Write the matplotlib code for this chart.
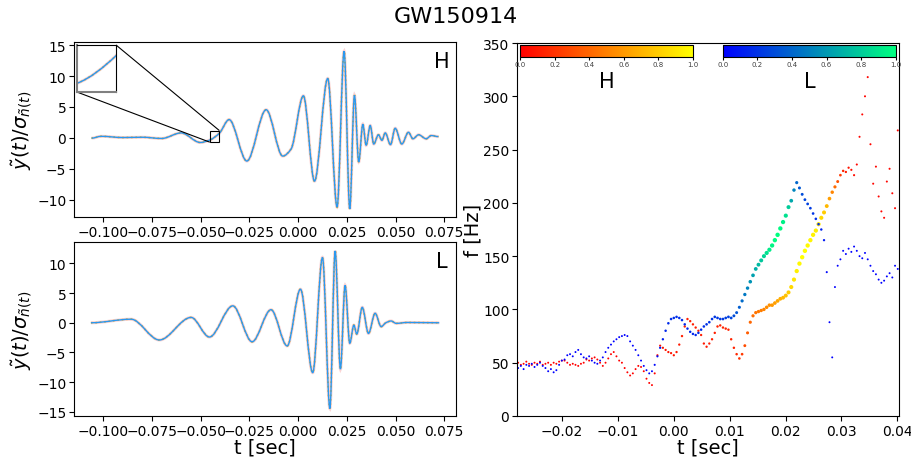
import numpy as np
import matplotlib
matplotlib.use("Agg")
import matplotlib.pyplot as plt
from matplotlib.path import Path
from matplotlib.patches import PathPatch
from matplotlib.cm import ScalarMappable
from matplotlib.colors import Normalize
from mpl_toolkits.axes_grid1.inset_locator import mark_inset

# whitened strain, key points (time [s], amplitude)
H_t = [-0.1060, -0.1010, -0.0900, -0.0800, -0.0700, -0.0600, -0.0502, -0.0453,
       -0.0404, -0.0354, -0.0263, -0.0164, -0.0079, -0.0036, 0.0027, 0.0084,
       0.0152, 0.0200, 0.0236, 0.0265, 0.0289, 0.0311, 0.0332, 0.0349, 0.0370,
       0.0388, 0.0412, 0.0430, 0.0447, 0.0474, 0.0498, 0.0532, 0.0566, 0.0589,
       0.0618, 0.0657, 0.0683, 0.0720]
H_y = [-0.05, 0.25, 0.05, 0.1, -0.1, 0.8, -0.75, -0.35,
       0.75, 2.95, -3.75, 4.55, -2.95, -1.8, 6.8, -7.0,
       9.6, -11.2, 14.0, -11.5, 6.9, -3.9, 2.2, -1.2, 2.0,
       -1.0, 0.5, -0.4, 0.8, -1.1, 1.55, -1.0, 0.9, -0.15,
       0.5, -0.15, 0.37, 0.2]

L_t = [-0.1063, -0.0857, -0.0712, -0.0549, -0.0455, -0.0335, -0.0236, -0.0139,
       -0.0056, 0.0012, 0.0075, 0.0125, 0.0163, 0.0190, 0.0217, 0.0241, 0.0265,
       0.0286, 0.0301, 0.0329, 0.0361, 0.0395, 0.0426, 0.0450, 0.0477, 0.0503,
       0.0560, 0.0724]
L_y = [0.0, 0.6, -2.9, 0.9, -2.4, 2.85, -3.2, 2.2,
       -3.9, 5.65, -8.4, 11.0, -14.45, 12.1, -7.8, 6.3, -3.45,
       -0.4, -1.9, 2.6, -1.8, 1.6, -0.65, 0.0, 0.3, -0.1,
       0.05, 0.0]

# time-frequency tracks, one value per sample (1/2048 s) starting at T0
T0 = -0.0278
FS = 2048
H_f = [50, 48, 49, 51, 49, 48, 50, 49, 51, 48,
       49, 50, 48, 50, 49, 51, 52, 52, 50, 48,
       49, 48, 47, 49, 50, 53, 52, 54, 55, 53,
       50, 47, 50, 54, 58, 60, 56, 52, 50, 45,
       41, 38, 40, 44, 47, 46, 42, 35, 31, 29,
       40, 57, 66, 64, 62, 60, 59, 57, 60, 67,
       75, 84, 91, 89, 86, 83, 80, 76, 68, 65,
       68, 72, 78, 84, 85, 83, 82, 81, 72, 64,
       58, 54, 58, 66, 78, 88, 94, 97, 98, 99,
       100, 102, 104, 104, 106, 108, 110, 111, 113, 116,
       121, 128, 136, 143, 149, 155, 160, 165, 170, 174,
       180, 186, 191, 197, 204, 210, 215, 220, 226, 230,
       229, 233, 231, 226, 236, 262, 283, 300, 318, 255,
       218, 234, 206, 192, 186, 220, 232, 209, 195, 268]
H_w = [0, 0, 0, 0, 0, 0, 0, 0, 0, 0,
       0, 0, 0, 0, 0, 0, 0, 0, 0, 0,
       0, 0, 0, 0, 0, 0, 0, 0, 0, 0,
       0, 0, 0, 0, 0, 0, 0, 0, 0, 0,
       0, 0, 0, 0, 0, 0, 0, 0, 0, 0,
       0.02, 0.04, 0.06, 0.08, 0.08, 0.08, 0.08, 0.08, 0.1, 0.1,
       0.12, 0.12, 0.12, 0.12, 0.12, 0.12, 0.1, 0.1, 0.1, 0.1,
       0.1, 0.12, 0.12, 0.14, 0.14, 0.14, 0.14, 0.14, 0.14, 0.14,
       0.16, 0.18, 0.22, 0.3, 0.36, 0.4, 0.43, 0.45, 0.47, 0.49,
       0.52, 0.55, 0.57, 0.6, 0.62, 0.65, 0.68, 0.72, 0.76, 0.8,
       0.85, 0.9, 0.94, 0.97, 1.0, 1.0, 0.98, 0.96, 0.95, 0.93,
       0.9, 0.85, 0.8, 0.72, 0.62, 0.52, 0.42, 0.32, 0.22, 0.15,
       0.1, 0.08, 0.06, 0.05, 0.03, 0.02, 0.02, 0.02, 0.02, 0.02,
       0.02, 0.02, 0.02, 0.02, 0.02, 0.02, 0.02, 0.02, 0.02, 0.02]

L_f = [45, 47, 44, 48, 47, 49, 46, 48, 50, 47,
       45, 42, 44, 41, 43, 48, 52, 53, 57, 58,
       56, 60, 62, 58, 55, 54, 56, 52, 50, 49,
       52, 55, 60, 64, 67, 70, 72, 74, 75, 76,
       75, 70, 66, 62, 57, 52, 47, 43, 40, 42,
       48, 56, 64, 72, 80, 87, 91, 92, 93, 92,
       90, 86, 82, 79, 77, 76, 78, 81, 84, 86,
       88, 91, 93, 92, 91, 91, 92, 93, 92, 94,
       97, 102, 108, 114, 120, 126, 132, 138, 142, 146,
       150, 153, 156, 160, 165, 170, 176, 182, 188, 196,
       202, 212, 219, 214, 208, 203, 199, 195, 190, 185,
       180, 175, 165, 135, 88, 55, 121, 141, 147, 155,
       152, 157, 154, 159, 155, 150, 148, 153, 147, 141,
       136, 133, 128, 125, 127, 131, 134, 130, 141, 138]
L_w = [0, 0, 0, 0, 0, 0, 0, 0, 0, 0,
       0, 0, 0, 0, 0, 0, 0, 0, 0, 0,
       0, 0, 0, 0, 0, 0, 0, 0, 0, 0,
       0, 0, 0, 0, 0, 0, 0, 0, 0, 0,
       0, 0, 0, 0, 0, 0, 0, 0, 0, 0,
       0.03, 0.06, 0.09, 0.12, 0.15, 0.17, 0.18, 0.18, 0.18, 0.18,
       0.17, 0.16, 0.15, 0.15, 0.15, 0.15, 0.16, 0.17, 0.18, 0.2,
       0.2, 0.2, 0.22, 0.22, 0.22, 0.23, 0.24, 0.25, 0.27, 0.3,
       0.33, 0.37, 0.42, 0.47, 0.52, 0.58, 0.63, 0.68, 0.73, 0.78,
       0.83, 0.88, 0.92, 0.96, 0.99, 1.0, 0.98, 0.94, 0.88, 0.8,
       0.66, 0.52, 0.4, 0.34, 0.3, 0.27, 0.25, 0.23, 0.21, 0.19,
       0.17, 0.14, 0.1, 0.03, 0, 0, 0, 0, 0, 0,
       0, 0, 0, 0, 0, 0, 0, 0, 0, 0,
       0, 0, 0, 0, 0, 0, 0, 0, 0, 0]

YLABEL = r"$\tilde{y}(t)/\sigma_{\tilde{n}(t)}$"


def smooth_path(tk, yk):
    # cubic bezier through the key points, flat at the extrema
    tk = np.asarray(tk, float)
    yk = np.asarray(yk, float)
    d = np.diff(yk) / np.diff(tk)
    m = np.zeros(len(tk))
    for k in range(1, len(tk) - 1):
        if d[k - 1] * d[k] > 0:
            m[k] = 2.0 / (1.0 / d[k - 1] + 1.0 / d[k])
    verts = [(tk[0], yk[0])]
    codes = [Path.MOVETO]
    for k in range(len(tk) - 1):
        h = tk[k + 1] - tk[k]
        verts += [(tk[k] + h / 3, yk[k] + m[k] * h / 3),
                  (tk[k + 1] - h / 3, yk[k + 1] - m[k + 1] * h / 3),
                  (tk[k + 1], yk[k + 1])]
        codes += [Path.CURVE4] * 3
    return Path(verts, codes)


def draw_wave(ax, tk, yk):
    path = smooth_path(tk, yk)
    ax.add_patch(PathPatch(path, fill=False, ec="#f07070", lw=2.2, alpha=0.3))
    ax.add_patch(PathPatch(path, fill=False, ec="#f8b400", lw=1.2, ls=":"))
    ax.add_patch(PathPatch(path, fill=False, ec="#2b98ee", lw=1.0))


fig = plt.figure(figsize=(9.12, 4.6), dpi=100)
fig.suptitle("GW150914", fontsize=16, y=0.985)

axH = fig.add_axes([0.0811, 0.5261, 0.4189, 0.3804])
axL = fig.add_axes([0.0811, 0.0935, 0.4189, 0.3782])
axF = fig.add_axes([0.5669, 0.0935, 0.4189, 0.8108])

draw_wave(axH, H_t, H_y)
draw_wave(axL, L_t, L_y)
for ax, lab, ylim in [(axH, "H", (-12.8, 15.5)), (axL, "L", (-15.7, 13.6))]:
    ax.set_xlim(-0.115, 0.081)
    ax.set_ylim(*ylim)
    ax.set_xticks([-0.1, -0.075, -0.05, -0.025, 0.0, 0.025, 0.05, 0.075])
    ax.set_ylabel(YLABEL, fontsize=14, labelpad=2)
    ax.tick_params(labelsize=10, pad=2)
    ax.text(0.963, 0.89, lab, transform=ax.transAxes, fontsize=15,
            ha="center", va="center")
axL.set_xlabel("t [sec]", fontsize=14, labelpad=0)

# zoomed inset on the H panel
axins = axH.inset_axes([0.008, 0.714, 0.102, 0.269])
draw_wave(axins, H_t, H_y)
axins.set_xlim(-0.0453, -0.0404)
axins.set_ylim(-0.7, 1.18)
axins.set_xticks([])
axins.set_yticks([])
for side in ["left", "bottom"]:
    axins.spines[side].set_color("0.5")
    axins.spines[side].set_linewidth(1.5)
mark_inset(axH, axins, loc1=3, loc2=1, fc="none", ec="k", lw=0.8)

# frequency tracks
t_s = T0 + np.arange(len(H_f)) / FS
H_w = np.array(H_w, float)
L_w = np.array(L_w, float)
axF.scatter(t_s, H_f, c=H_w, cmap="autumn", vmin=0, vmax=1,
            s=2 + 8 * H_w, linewidths=0)
axF.scatter(t_s, L_f, c=L_w, cmap="winter", vmin=0, vmax=1,
            s=2 + 8 * L_w, linewidths=0)
axF.set_xlim(-0.028, 0.0403)
axF.set_ylim(0, 350)
axF.set_xticks([-0.02, -0.01, 0.0, 0.01, 0.02, 0.03, 0.04])
axF.tick_params(labelsize=10, pad=2)
axF.set_xlabel("t [sec]", fontsize=14, labelpad=0)
axF.set_ylabel("f [Hz]", fontsize=14, labelpad=0)

for x0, cmap, lab, xt in [(0.008, "autumn", "H", 0.236),
                          (0.539, "winter", "L", 0.767)]:
    cax = axF.inset_axes([x0, 0.9626, 0.452, 0.032])
    cb = fig.colorbar(ScalarMappable(Normalize(0, 1), cmap=cmap), cax=cax,
                      orientation="horizontal")
    cb.set_ticks([0, 0.2, 0.4, 0.6, 0.8, 1.0])
    cb.ax.tick_params(labelsize=5, length=2, pad=1, labelcolor="0.25")
    axF.text(xt, 0.898, lab, transform=axF.transAxes, fontsize=15,
             ha="center", va="center")

fig.savefig("out.png", dpi=100)
